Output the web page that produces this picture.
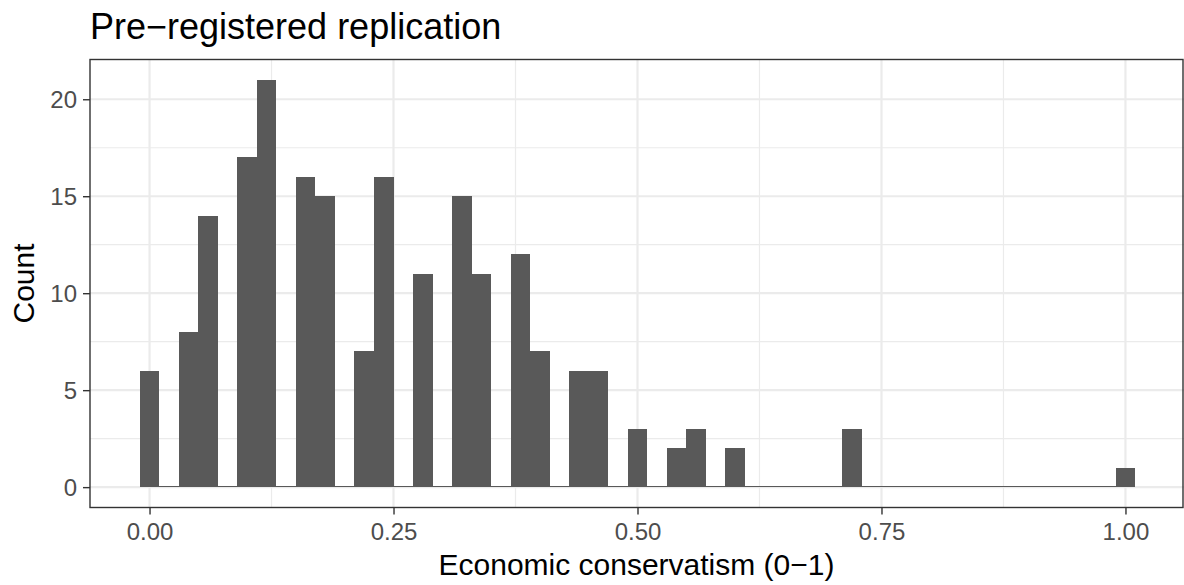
<!DOCTYPE html>
<html>
<head>
<meta charset="utf-8">
<script src="https://cdn.jsdelivr.net/npm/d3@7"></script>
<style>
  body { margin: 0; background: #ffffff; }
  text { font-family: "Liberation Sans", Arial, Helvetica, sans-serif; }
</style>
</head>
<body>
<div id="container"></div>
<script>
"use strict";

const plotWidth = 1184;
const plotHeight = 585;

const panelLeft = 90;
const panelRight = 1185;
const panelTop = 59.5;
const panelBottom = 507.5;

const barColor = "#595959";
const gridColor = "#EBEBEB";

const binWidth = 0.02;

// bin centres of the histogram
const binCenters = [
  0.0, 0.02, 0.04, 0.06, 0.08, 0.1, 0.12, 0.14, 0.16, 0.18,
  0.2, 0.22, 0.24, 0.26, 0.28, 0.3, 0.32, 0.34, 0.36, 0.38,
  0.4, 0.42, 0.44, 0.46, 0.48, 0.5, 0.52, 0.54, 0.56, 0.58,
  0.6, 0.62, 0.64, 0.66, 0.68, 0.7, 0.72, 0.74, 0.76, 0.78,
  0.8, 0.82, 0.84, 0.86, 0.88, 0.9, 0.92, 0.94, 0.96, 0.98,
  1.0,
];

const counts = [
  6, 0, 8, 14, 0, 17, 21, 0, 16, 15,
  0, 7, 16, 0, 11, 0, 15, 11, 0, 12,
  7, 0, 6, 6, 0, 3, 0, 2, 3, 0,
  2, 0, 0, 0, 0, 0, 3, 0, 0, 0,
  0, 0, 0, 0, 0, 0, 0, 0, 0, 0,
  1,
];

const xTicks = [0, 0.25, 0.5, 0.75, 1];
const xMinorTicks = [0.125, 0.375, 0.625, 0.875];
const yTicks = [0, 5, 10, 15, 20];
const yMinorTicks = [2.5, 7.5, 12.5, 17.5];

const title = "Pre\u2212registered replication";
const xTitle = "Economic conservatism (0\u22121)";
const yTitle = "Count";

const bins = binCenters.map((c, i) => ({ center: c, count: counts[i] }));

const xScale = d3
  .scaleLinear()
  .domain([-0.061, 1.061])
  .range([panelLeft, panelRight]);

const yScale = d3
  .scaleLinear()
  .domain([-1.05, 22.05])
  .range([panelBottom, panelTop]);

const svg = d3
  .select("#container")
  .append("svg")
  .attr("width", plotWidth)
  .attr("height", plotHeight);

// grid
const grid = svg.append("g");

grid
  .selectAll(".xminor")
  .data(xMinorTicks)
  .enter()
  .append("line")
  .attr("x1", (d) => xScale(d))
  .attr("x2", (d) => xScale(d))
  .attr("y1", panelTop)
  .attr("y2", panelBottom)
  .attr("stroke", gridColor)
  .attr("stroke-width", 1.2);

grid
  .selectAll(".yminor")
  .data(yMinorTicks)
  .enter()
  .append("line")
  .attr("x1", panelLeft)
  .attr("x2", panelRight)
  .attr("y1", (d) => yScale(d))
  .attr("y2", (d) => yScale(d))
  .attr("stroke", gridColor)
  .attr("stroke-width", 1.2);

grid
  .selectAll(".xmajor")
  .data(xTicks)
  .enter()
  .append("line")
  .attr("x1", (d) => xScale(d))
  .attr("x2", (d) => xScale(d))
  .attr("y1", panelTop)
  .attr("y2", panelBottom)
  .attr("stroke", gridColor)
  .attr("stroke-width", 2.2);

grid
  .selectAll(".ymajor")
  .data(yTicks)
  .enter()
  .append("line")
  .attr("x1", panelLeft)
  .attr("x2", panelRight)
  .attr("y1", (d) => yScale(d))
  .attr("y2", (d) => yScale(d))
  .attr("stroke", gridColor)
  .attr("stroke-width", 2.2);

// bars (empty bins still leave a hairline, as in the original)
svg
  .append("g")
  .attr("shape-rendering", "crispEdges")
  .selectAll("rect")
  .data(bins)
  .enter()
  .append("rect")
  .attr("x", (d) => xScale(d.center - binWidth / 2))
  .attr("width", (d) => xScale(d.center + binWidth / 2) - xScale(d.center - binWidth / 2))
  .attr("y", (d) => Math.min(yScale(d.count), yScale(0) - 1))
  .attr("height", (d) => Math.max(yScale(0) - yScale(d.count), 1))
  .attr("fill", barColor);

// panel border
svg
  .append("rect")
  .attr("x", panelLeft)
  .attr("y", panelTop)
  .attr("width", 1183 - panelLeft)
  .attr("height", panelBottom - panelTop)
  .attr("fill", "none")
  .attr("stroke", "#333333")
  .attr("stroke-width", 1.4);

// axes
const xAxis = d3
  .axisBottom(xScale)
  .tickValues(xTicks)
  .tickFormat(d3.format(".2f"))
  .tickSize(7)
  .tickPadding(6);

const yAxis = d3
  .axisLeft(yScale)
  .tickValues(yTicks)
  .tickFormat(d3.format("d"))
  .tickSize(7)
  .tickPadding(6);

const gx = svg
  .append("g")
  .attr("transform", `translate(0, ${panelBottom})`)
  .call(xAxis);

const gy = svg
  .append("g")
  .attr("transform", `translate(${panelLeft}, 0)`)
  .call(yAxis);

[gx, gy].forEach((g) => {
  g.select(".domain").remove();
  g.selectAll(".tick line").attr("stroke", "#333333").attr("stroke-width", 1.4);
  g.selectAll(".tick text")
    .attr("fill", "#4D4D4D")
    .style("font-size", "24px");
});

gx.selectAll(".tick text").attr("dy", "0.81em");
gy.selectAll(".tick text").attr("dy", "0.36em");

// titles
svg
  .append("text")
  .attr("x", 90)
  .attr("y", 39)
  .style("font-size", "36px")
  .attr("fill", "#000000")
  .text(title);

svg
  .append("text")
  .attr("text-anchor", "middle")
  .attr("x", (panelLeft + 1183) / 2)
  .attr("y", 575)
  .style("font-size", "30px")
  .attr("fill", "#000000")
  .text(xTitle);

svg
  .append("text")
  .attr("text-anchor", "middle")
  .attr("transform", `translate(34, ${(panelTop + panelBottom) / 2}) rotate(-90)`)
  .style("font-size", "30px")
  .attr("fill", "#000000")
  .text(yTitle);
</script>
</body>
</html>
